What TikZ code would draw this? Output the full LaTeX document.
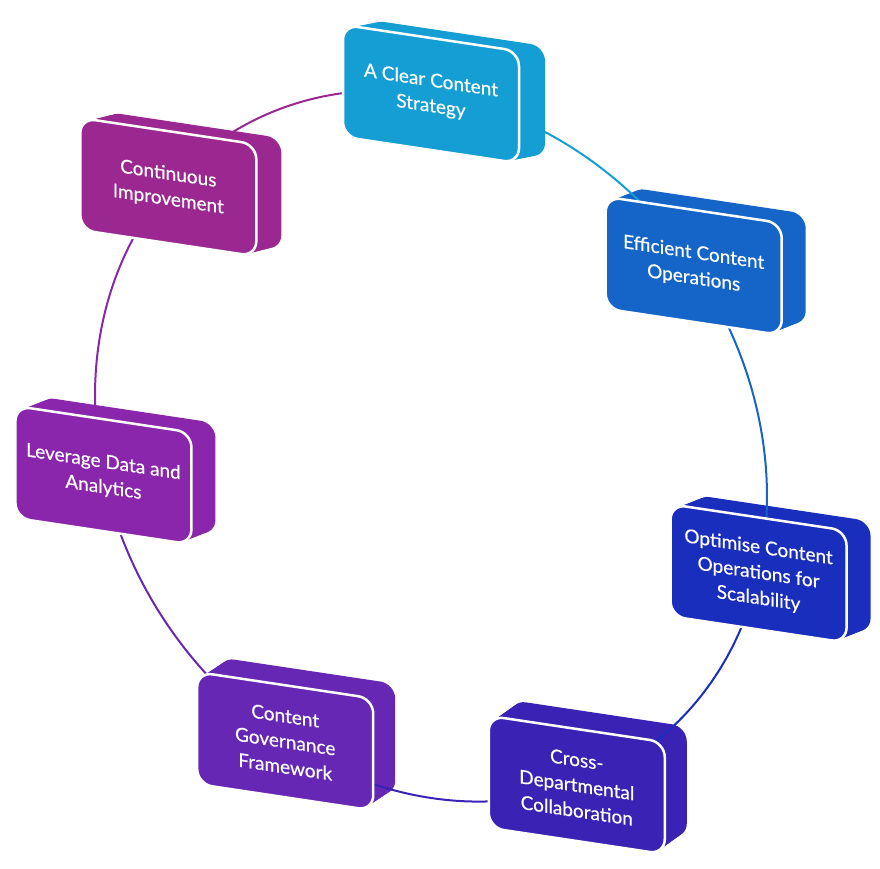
\documentclass[tikz,border=0pt]{standalone}
\usepackage{fontspec}
\setmainfont{Lato}
\newfontfamily\boxfont[FakeBold=0.5]{Lato}
\definecolor{c1}{RGB}{20,158,212}
\definecolor{c2}{RGB}{21,101,200}
\definecolor{c3}{RGB}{26,46,190}
\definecolor{c4}{RGB}{58,34,180}
\definecolor{c5}{RGB}{102,40,180}
\definecolor{c6}{RGB}{138,38,172}
\definecolor{c7}{RGB}{155,40,145}
\tikzset{
  txt/.style={text=white, align=center, font=\boxfont\fontsize{19}{25.5}\selectfont, transform shape, inner sep=0pt},
  link/.style={line width=2pt},
  frontface/.style={draw=white, line width=2.5pt, rounded corners=15pt},
  backface/.style={rounded corners=15pt}
}
\begin{document}
\begin{tikzpicture}[x=1pt,y=-1pt]
\useasboundingbox (0,0) rectangle (880,868);
% box centres on the slanted ellipse
\begin{scope}[shift={(431,446)}, yslant=-0.15]
  \foreach \i in {1,...,7}{
    \coordinate (b\i) at ({336*cos(-90+(\i-1)*360/7)},{352*sin(-90+(\i-1)*360/7)});
  }
\end{scope}
% extruded backs
\foreach \i/\dx/\dy in {1/26/-9, 2/24/-13, 3/24/-13, 4/22/-19, 5/22/-18, 6/24/-13, 7/25/-10}{
  \begin{scope}[shift={(b\i)}, yslant=-0.15]
    \foreach \s in {0,1,...,10}
      \fill[c\i, backface] ({-88+\s*\dx/10},{-56+\s*\dy/10}) rectangle ({88+\s*\dx/10},{56+\s*\dy/10});
  \end{scope}
}
% connecting arcs
\begin{scope}[shift={(431,446)}, yslant=-0.15]
  \foreach \i in {1,...,7}{
    \pgfmathsetmacro{\ta}{-90+(\i-1)*360/7}
    \pgfmathsetmacro{\tb}{-90+\i*360/7}
    \draw[link, c\i] ({336*cos(\ta)},{352*sin(\ta)}) arc[start angle=\ta, end angle=\tb, x radius=336, y radius=352];
  }
\end{scope}
% front faces and labels
\foreach \i/\txt in {1/{A Clear Content\\Strategy}, 2/{Efficient Content\\Operations}, 3/{Optimise Content\\Operations for\\Scalability}, 4/{Cross-\\Departmental\\Collaboration}, 5/{Content\\Governance\\Framework}, 6/{Leverage Data and\\Analytics}, 7/{Continuous\\Improvement}}{
  \begin{scope}[shift={(b\i)}, yslant=-0.15]
    \fill[fill=c\i, frontface] (-88,-56) rectangle (88,56);
    \node[txt] (n\i) at (0,0) {\txt};
  \end{scope}
}
\end{tikzpicture}
\end{document}
